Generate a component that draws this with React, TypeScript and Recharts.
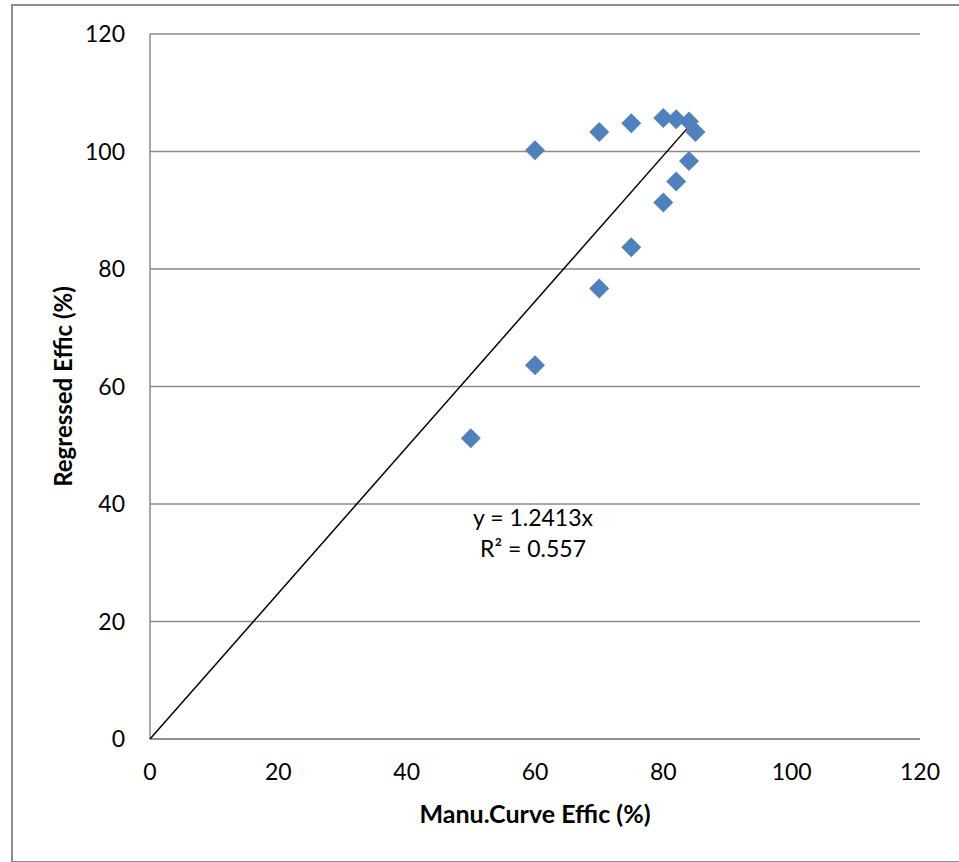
import React from "react";
import {
  ScatterChart,
  Scatter,
  XAxis,
  YAxis,
  CartesianGrid,
  Customized,
} from "recharts";

// Manufacturer curve efficiency (%) vs. regressed efficiency (%)
const manuEffic = [50, 60, 60, 70, 70, 75, 75, 80, 80, 82, 82, 84, 84, 85];
const regressedEffic = [
  51.2, 100.2, 63.6, 103.3, 76.7, 104.8, 83.7, 105.7, 91.3, 105.5, 94.9, 105.1,
  98.4, 103.3,
];

const axisTicks = [0, 20, 40, 60, 80, 100, 120];

// Trendline shown in the chart: y = 1.2413x, drawn across the data's x range
const trendSlope = 1.2413;
const trendRange = [0, 85];

const points = manuEffic.map((x, i) => ({ x, y: regressedEffic[i] }));
const trendPoints = trendRange.map((x) => ({ x, y: trendSlope * x }));

const FONT = "Lato, 'Open Sans', sans-serif";
const GRID = "#8a8a8a";

// Excel-style diamond marker (square rotated 45deg)
const Diamond = (props: any) => {
  const { cx, cy } = props;
  const r = 10;
  return (
    <polygon
      points={`${cx},${cy - r} ${cx + r},${cy} ${cx},${cy + r} ${cx - r},${cy}`}
      fill="#4F81BD"
    />
  );
};

const EquationLabel = () => (
  <g fontFamily={FONT} fontSize={23} fill="#000" textAnchor="middle">
    <text x={533} y={526}>
      y = 1.2413x
    </text>
    <text x={533} y={557}>
      R² = 0.557
    </text>
  </g>
);

const App: React.FC = () => {
  return (
    <div
      style={{
        position: "absolute",
        left: 0,
        top: 0,
        width: 959,
        height: 862,
        background: "#fff",
        overflow: "hidden",
      }}
    >
      <div
        style={{
          position: "absolute",
          left: 11,
          top: 4,
          width: 980,
          height: 855,
          border: "2px solid #8c8c8c",
        }}
      />
      <ScatterChart
        width={959}
        height={862}
        margin={{ top: 34, right: 39, left: 40, bottom: 33 }}
        style={{ position: "absolute", left: 0, top: 0, fontFamily: FONT }}
      >
        <CartesianGrid
          vertical={false}
          stroke={GRID}
          strokeWidth={1.5}
          strokeDasharray=""
        />
        <XAxis
          type="number"
          dataKey="x"
          domain={[0, 120]}
          ticks={axisTicks}
          height={90}
          tickLine={false}
          tickSize={0}
          tickMargin={25}
          axisLine={{ stroke: GRID, strokeWidth: 1.5 }}
          tick={{ fill: "#000", fontSize: 23, fontFamily: FONT }}
          label={{
            value: "Manu.Curve Effic (%)",
            position: "insideBottom",
            offset: 6,
            style: { fill: "#000", fontSize: 25, fontWeight: 700, fontFamily: FONT },
          }}
        />
        <YAxis
          type="number"
          dataKey="y"
          domain={[0, 120]}
          ticks={axisTicks}
          width={110}
          tickLine={false}
          tickSize={0}
          tickMargin={25}
          axisLine={{ stroke: GRID, strokeWidth: 1.5 }}
          tick={{ fill: "#000", fontSize: 23, fontFamily: FONT }}
          label={{
            value: "Regressed Effic (%)",
            angle: -90,
            position: "insideLeft",
            offset: 23,
            style: {
              fill: "#000",
              fontSize: 24,
              fontWeight: 700,
              fontFamily: FONT,
              textAnchor: "middle",
            },
          }}
        />
        <Scatter
          data={trendPoints}
          line={{ stroke: "#000", strokeWidth: 1.5 }}
          shape={() => <g />}
          isAnimationActive={false}
        />
        <Scatter data={points} shape={<Diamond />} isAnimationActive={false} />
        <Customized component={EquationLabel} />
      </ScatterChart>
    </div>
  );
};

export default App;
